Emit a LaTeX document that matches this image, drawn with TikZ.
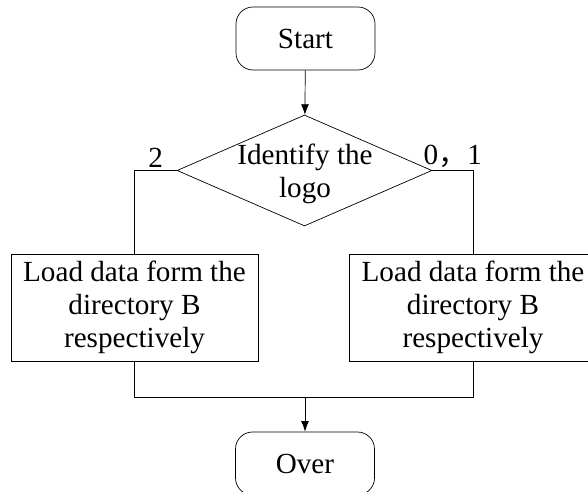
\documentclass[tikz,border=0pt]{standalone}
\usepackage{fontspec}
\setmainfont{Liberation Serif}
\newfontfamily\cjkfont{Noto Sans CJK SC}
\usetikzlibrary{shapes.geometric,arrows.meta}

\tikzset{
    startstop/.style={draw, rounded corners=0.34cm, minimum width=2.78cm, minimum height=1.26cm},
    process/.style={draw, align=center, minimum width=4.94cm, minimum height=2.14cm},
    decision/.style={draw, diamond, minimum width=5.1cm, minimum height=2.22cm, inner sep=0pt},
    branch/.style={above, inner sep=1.5pt}
}

\begin{document}
\begin{tikzpicture}[x=0.02cm,y=-0.02cm,font=\fontsize{16.6}{18.8}\selectfont,>={Latex[length=6pt,width=4.5pt]}]
        \useasboundingbox (0,0) rectangle (588,492);

        \node[startstop](start)at(305.5,38.5){Start};
        \node[decision](logo)at(304.5,170.5){};
        \node[align=center](logotext)at(305,174){Identify the\\logo};
        \node[process](loadl)at(134.5,307.5){Load data form the\\directory B\\respectively};
        \node[process](loadr)at(473,307.5){Load data form the\\directory B\\respectively};
        \node[startstop](over)at(305,463.5){Over};
        \coordinate(join)at(305,397);

        \draw[->](start)--(logo);
        \draw(logo.west)--node[branch]{2}(loadl.north|-logo.west)--(loadl.north);
        \draw(logo.east)--node[branch]{0{\cjkfont ，}1}(loadr.north|-logo.east)--(loadr.north);
        \draw(loadl.south)--(loadl.south|-join)--(loadr.south|-join)--(loadr.south);
        \draw[->](join)--(over);
    \end{tikzpicture}
\end{document}
